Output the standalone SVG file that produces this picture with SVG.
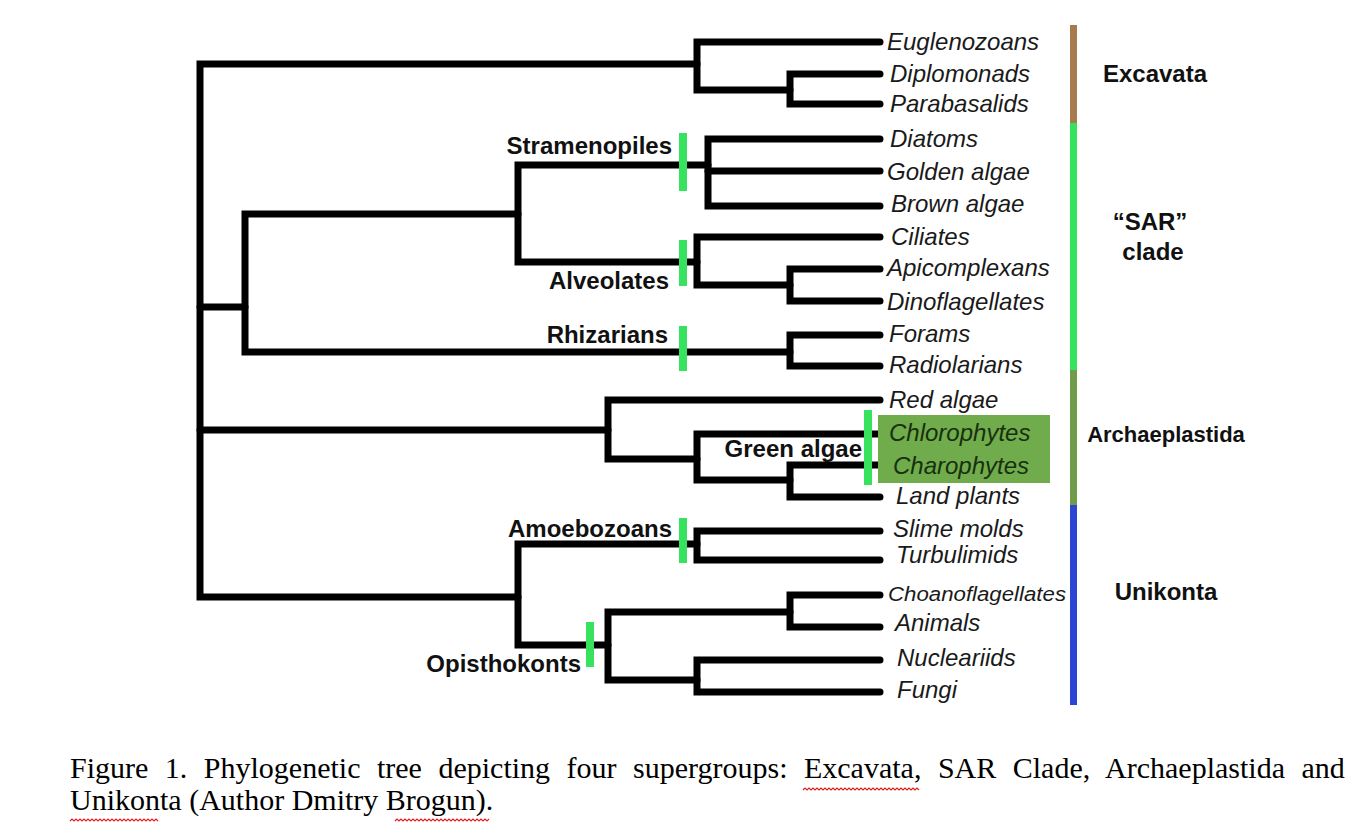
<svg xmlns="http://www.w3.org/2000/svg" width="1367" height="833" viewBox="0 0 1367 833">
<style>
.tree{fill:none;stroke:#000;stroke-width:7;stroke-linecap:round;stroke-linejoin:miter}
.tick{stroke:#36e25e;stroke-width:8}
.leaf{font-family:"Liberation Sans",Arial,sans-serif;font-style:italic;font-size:24px;fill:#1a1a1a}
.clade{font-family:"Liberation Sans",Arial,sans-serif;font-weight:bold;font-size:24px;fill:#111}
.grp{font-family:"Liberation Sans",Arial,sans-serif;font-weight:bold;font-size:24px;fill:#111;text-anchor:middle}
.cap{font-family:"Liberation Serif","Times New Roman",serif;font-size:30px;fill:#000}
.sq{fill:none;stroke:#e02020;stroke-width:1.2}
</style>
<rect width="1367" height="833" fill="#fff"/>
<g id="connectors">
<path class="tree" d="M697,64 H200 V597 H518"/>
<path class="tree" d="M200,307 H245"/>
<path class="tree" d="M200,430 H608"/>
<path class="tree" d="M880,42 H697 V90 H790"/>
<path class="tree" d="M880,74 H790 V104 H880"/>
<path class="tree" d="M518,214 H245 V352 H790"/>
<path class="tree" d="M708,165 H518 V262 H697"/>
<path class="tree" d="M880,139 H708 V206 H880"/>
<path class="tree" d="M880,171 H708"/>
<path class="tree" d="M880,237 H697 V285 H790"/>
<path class="tree" d="M880,269 H790 V301 H880"/>
<path class="tree" d="M880,335 H790 V366 H880"/>
<path class="tree" d="M880,400 H608 V459 H697"/>
<path class="tree" d="M880,434 H697 V480 H790"/>
<path class="tree" d="M880,465 H790 V497 H880"/>
<path class="tree" d="M697,544 H518 V645 H608"/>
<path class="tree" d="M880,531 H697 V560 H880"/>
<path class="tree" d="M790,612 H608 V680 H697"/>
<path class="tree" d="M880,595 H790 V627 H880"/>
<path class="tree" d="M880,660 H697 V692 H880"/>
</g>
<g id="green-box"><rect x="878" y="415" width="172" height="68" fill="#70ab4c"/></g>
<g id="stramenopiles"><line class="tick" x1="683" y1="133" x2="683" y2="191"/><text class="clade" x="672" y="154" text-anchor="end">Stramenopiles</text></g>
<g id="alveolates"><line class="tick" x1="683" y1="240" x2="683" y2="286"/><text class="clade" x="669" y="289" text-anchor="end">Alveolates</text></g>
<g id="rhizarians"><line class="tick" x1="683" y1="326" x2="683" y2="371"/><text class="clade" x="668" y="343" text-anchor="end">Rhizarians</text></g>
<g id="green-algae"><line class="tick" x1="868" y1="410" x2="868" y2="485"/><text class="clade" x="862" y="457" text-anchor="end">Green algae</text></g>
<g id="amoebozoans"><line class="tick" x1="683" y1="518" x2="683" y2="563"/><text class="clade" x="672" y="537" text-anchor="end">Amoebozoans</text></g>
<g id="opisthokonts"><line class="tick" x1="590" y1="622" x2="590" y2="667"/><text class="clade" x="581" y="672" text-anchor="end">Opisthokonts</text></g>
<g id="leaves">
<text class="leaf" x="887" y="50">Euglenozoans</text>
<text class="leaf" x="890" y="82">Diplomonads</text>
<text class="leaf" x="890" y="112">Parabasalids</text>
<text class="leaf" x="890" y="147">Diatoms</text>
<text class="leaf" x="887" y="180">Golden algae</text>
<text class="leaf" x="891" y="212">Brown algae</text>
<text class="leaf" x="891" y="245">Ciliates</text>
<text class="leaf" x="887" y="276">Apicomplexans</text>
<text class="leaf" x="887" y="310">Dinoflagellates</text>
<text class="leaf" x="889" y="342">Forams</text>
<text class="leaf" x="889" y="373">Radiolarians</text>
<text class="leaf" x="889" y="408">Red algae</text>
<text class="leaf" x="889" y="441" style="fill:#18300f">Chlorophytes</text>
<text class="leaf" x="893" y="474" style="fill:#18300f">Charophytes</text>
<text class="leaf" x="896" y="504">Land plants</text>
<text class="leaf" x="893" y="537">Slime molds</text>
<text class="leaf" x="896" y="563">Turbulimids</text>
<text class="leaf" x="888" y="601" style="font-size:20px" textLength="178" lengthAdjust="spacingAndGlyphs">Choanoflagellates</text>
<text class="leaf" x="895" y="631">Animals</text>
<text class="leaf" x="897" y="666">Nucleariids</text>
<text class="leaf" x="897" y="698">Fungi</text>
</g>
<g id="bar">
<rect x="1070" y="25" width="7" height="98" fill="#a77b4d"/>
<rect x="1070" y="123" width="7" height="247" fill="#34e35b"/>
<rect x="1070" y="370" width="7" height="135" fill="#6f9b4a"/>
<rect x="1070" y="505" width="7" height="200" fill="#2c46d4"/>
</g>
<g id="excavata"><text class="grp" x="1155" y="82">Excavata</text></g>
<g id="sar"><text class="grp" x="1150" y="230">“SAR”</text><text class="grp" x="1153" y="260">clade</text></g>
<g id="archaeplastida"><text class="grp" x="1166" y="442" style="font-size:22px">Archaeplastida</text></g>
<g id="unikonta"><text class="grp" x="1166" y="600">Unikonta</text></g>
<g id="caption">
<text class="cap" x="70" y="778" word-spacing="9">Figure 1. Phylogenetic tree depicting four supergroups: Excavata, SAR Clade, Archaeplastida and</text>
<text class="cap" x="70" y="810">Unikonta (Author Dmitry Brogun).</text>
<path class="sq" d="M803,790 l2,-2 l2,2 l2,-2 l2,2 l2,-2 l2,2 l2,-2 l2,2 l2,-2 l2,2 l2,-2 l2,2 l2,-2 l2,2 l2,-2 l2,2 l2,-2 l2,2 l2,-2 l2,2 l2,-2 l2,2 l2,-2 l2,2 l2,-2 l2,2 l2,-2 l2,2 l2,-2 l2,2 l2,-2 l2,2 l2,-2 l2,2 l2,-2 l2,2 l2,-2 l2,2 l2,-2 l2,2 l2,-2 l2,2 l2,-2 l2,2 l2,-2 l2,2 l2,-2 l2,2 l2,-2 l2,2 l2,-2 l2,2 l2,-2 l2,2 l2,-2 l2,2 l2,-2 l2,2"/>
<path class="sq" d="M70,821 l2,-2 l2,2 l2,-2 l2,2 l2,-2 l2,2 l2,-2 l2,2 l2,-2 l2,2 l2,-2 l2,2 l2,-2 l2,2 l2,-2 l2,2 l2,-2 l2,2 l2,-2 l2,2 l2,-2 l2,2 l2,-2 l2,2 l2,-2 l2,2 l2,-2 l2,2 l2,-2 l2,2 l2,-2 l2,2 l2,-2 l2,2 l2,-2 l2,2 l2,-2 l2,2 l2,-2 l2,2 l2,-2 l2,2 l2,-2 l2,2"/>
<path class="sq" d="M395,821 l2,-2 l2,2 l2,-2 l2,2 l2,-2 l2,2 l2,-2 l2,2 l2,-2 l2,2 l2,-2 l2,2 l2,-2 l2,2 l2,-2 l2,2 l2,-2 l2,2 l2,-2 l2,2 l2,-2 l2,2 l2,-2 l2,2 l2,-2 l2,2 l2,-2 l2,2 l2,-2 l2,2 l2,-2 l2,2 l2,-2 l2,2 l2,-2 l2,2 l2,-2 l2,2 l2,-2 l2,2 l2,-2 l2,2 l2,-2 l2,2 l2,-2 l2,2 l2,-2"/>
</g>
</svg>
